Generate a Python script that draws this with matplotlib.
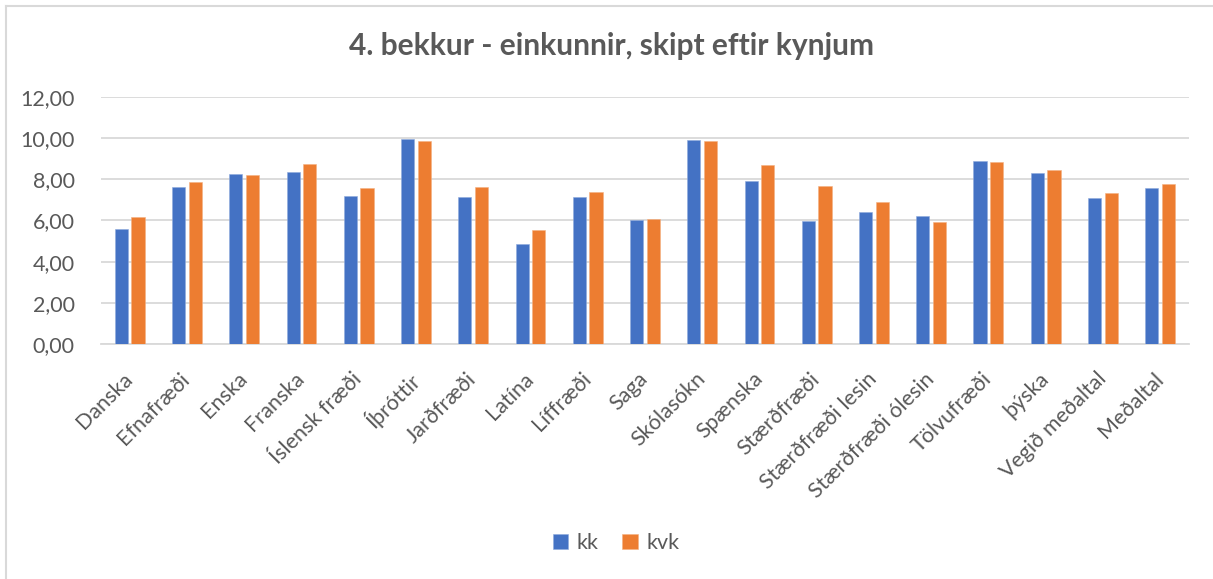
import numpy as np
import matplotlib.pyplot as plt
from matplotlib.lines import Line2D

# Data
subjects = ['Danska', 'Efnafræði', 'Enska', 'Franska', 'Íslensk fræði', 'Íþróttir',
            'Jarðfræði', 'Latína', 'Líffræði', 'Saga', 'Skólasókn', 'Spænska',
            'Stærðfræði', 'Stærðfræði lesin', 'Stærðfræði ólesin', 'Tölvufræði',
            'þýska', 'Vegið meðaltal', 'Meðaltal']
kk = [5.58, 7.62, 8.25, 8.35, 7.18, 9.96, 7.12, 4.85, 7.13, 6.03,
      9.92, 7.93, 5.98, 6.41, 6.21, 8.90, 8.30, 7.10, 7.59]
kvk = [6.19, 7.88, 8.20, 8.74, 7.59, 9.86, 7.64, 5.53, 7.39, 6.06,
       9.86, 8.69, 7.65, 6.89, 5.92, 8.84, 8.46, 7.33, 7.77]

plt.rcParams['font.family'] = ['Lato', 'DejaVu Sans']
text_color = '#595959'
blue = '#4472C4'
orange = '#ED7D31'
grid_color = '#D9D9D9'

fig = plt.figure(figsize=(12.13, 5.79), dpi=100)
ax = fig.add_axes([0.0833, 0.406, 0.8967, 0.4265])

x = np.arange(len(subjects))
w = 0.23
ax.bar(x - 0.145, kk, width=w, color=blue, edgecolor='#8FAADC', linewidth=0.4, label='kk', zorder=3)
ax.bar(x + 0.145, kvk, width=w, color=orange, edgecolor='#F4B183', linewidth=0.4, label='kvk', zorder=3)

ax.set_xlim(-0.5, len(subjects) - 0.5)
ax.set_ylim(0, 12)
ax.set_yticks(np.arange(0, 13, 2))
ax.set_yticklabels([f'{v:.2f}'.replace('.', ',') for v in np.arange(0, 13, 2)])
ax.yaxis.grid(True, color=grid_color, linewidth=1.3, zorder=0)
ax.set_axisbelow(True)

for side in ['top', 'right', 'left']:
    ax.spines[side].set_visible(False)
ax.spines['bottom'].set_color(grid_color)
ax.spines['bottom'].set_linewidth(1.3)

ax.tick_params(axis='both', length=0, colors=text_color, labelsize=15.5)
ax.tick_params(axis='y', pad=19)
ax.set_xticks(x)
ax.set_xticklabels(subjects, rotation=45, ha='right', va='center',
                   rotation_mode='anchor')
ax.tick_params(axis='x', pad=23)

fig.suptitle('4. bekkur - einkunnir, skipt eftir kynjum', x=0.504, y=0.945,
             fontsize=21.5, fontweight='bold', color=text_color)

leg = fig.legend(loc='center', bbox_to_anchor=(0.508, 0.062), ncol=2, frameon=False,
                 fontsize=15.5, handlelength=0.7, handleheight=0.7, handletextpad=0.4,
                 columnspacing=1.1)
for t in leg.get_texts():
    t.set_color(text_color)

# chart border (only left and top edges visible)
fig.add_artist(Line2D([6 / 1213, 6 / 1213], [0, 1 - 6 / 579], transform=fig.transFigure,
                      color=grid_color, linewidth=1.5))
fig.add_artist(Line2D([6 / 1213, 1], [1 - 6 / 579, 1 - 6 / 579], transform=fig.transFigure,
                      color=grid_color, linewidth=1.5))

fig.savefig('out.png', dpi=100, facecolor='white')
